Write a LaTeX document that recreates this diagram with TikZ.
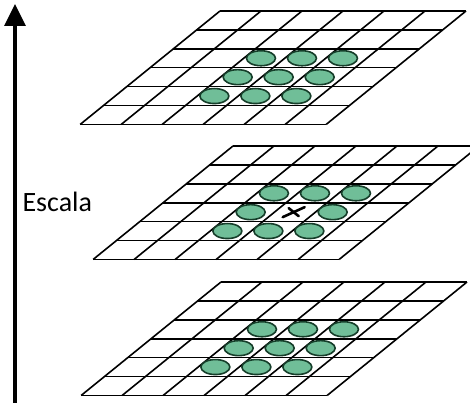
\documentclass[tikz,border=0pt]{standalone}
\usepackage{fontspec}
\setmainfont{Carlito}
\usepackage{tikz}
\usetikzlibrary{arrows.meta, shapes.geometric}

\definecolor{blobfill}{RGB}{112,190,152}
\definecolor{blobedge}{RGB}{22,62,42}

\begin{document}
\begin{tikzpicture}[
  gridline/.style={line width=1.6pt, black},
  blob/.style={ellipse, draw=blobedge, fill=blobfill, line width=1.6pt,
    minimum width=29pt, minimum height=15pt, inner sep=0pt},
  axis/.style={line width=3.4pt, -{Triangle[length=22pt, width=21pt]}},
  cross/.style={line width=2.6pt, line cap=round}
]
\useasboundingbox (0pt,0pt) rectangle (470pt,-403pt);

% Scale axis
\coordinate (axis-base) at (15pt,-403pt);
\coordinate (axis-tip) at (15pt,-4pt);
\draw[axis] (axis-base) -- (axis-tip);
\node[font=\fontsize{28}{33}\selectfont, anchor=west] (escala) at (19pt,-202pt) {Escala};

% Three slanted grids (top, middle, bottom)
\foreach \lvl/\ox/\oy in {top/220/11, mid/233/146, bot/221/282} {
  \begin{scope}[shift={(\ox pt,-\oy pt)}, x={(41pt,0pt)}, y={(-23.3pt,-18.9pt)}]
    \foreach \i in {0,...,6} {
      \draw[gridline] (0,\i) -- (6,\i);
      \draw[gridline] (\i,0) -- (\i,6);
    }
    % 3x3 neighbourhood
    \foreach \r in {2,3,4} {
      \foreach \c in {2,3,4} {
        \coordinate (\lvl-\r-\c) at (\c+0.42,\r+0.5);
      }
    }
  \end{scope}
}

% Neighbours (the centre of the middle level is the sample point)
\foreach \lvl in {top, bot} {
  \foreach \r in {2,3,4} {
    \foreach \c in {2,3,4} {
      \node[blob] (\lvl-b-\r-\c) at (\lvl-\r-\c) {};
    }
  }
}
\foreach \r/\c in {2/2, 2/3, 2/4, 3/2, 3/4, 4/2, 4/3, 4/4} {
  \node[blob] (mid-b-\r-\c) at (mid-\r-\c) {};
}

% Sample point
\coordinate (x-center) at ([xshift=2pt]mid-3-3);
\draw[cross] ([xshift=-11pt,yshift=-5pt]x-center) -- ([xshift=11pt,yshift=5pt]x-center);
\draw[cross] ([xshift=-5pt,yshift=4pt]x-center) -- ([xshift=5pt,yshift=-4pt]x-center);

\end{tikzpicture}
\end{document}
